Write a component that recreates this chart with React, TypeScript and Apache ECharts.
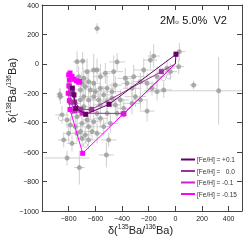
import React, { useEffect, useRef } from "react";
import * as echarts from "echarts";

// Grain data (δ135Ba/136Ba, δ138Ba/136Ba) with 2σ errors
const grainX = [-587, -737, -695, -867, -662, -612, -587, -562, -525, -462, -437, -450, -375, -362, -312, -262, -212, -162, -187, -175, -137, -212, -62, -37, 30, 25, 137, 325, -812, -720, -517, -500, -837, -800, -787, -850, -812, -750, -712, -675, -650, -625, -700, -662, -612, -562, -512, -587, -637, -687, -712, -687, -650, -612, -575, -537, -512, -475, -450, -412, -387, -437, -712, -675, -637, -600, -562, -700, -650, -725, -687, -612, -512, -475, -300, -262, -325, -737, -775, -700, -650, -737, -775, -587, -537, -487, -862, -137, -87, -237, -325, -750, -562];
const grainY = [241, 15, 19, -207, -53, -42, -42, -87, -64, -53, 13, -144, -98, -132, -87, -121, -132, 53, 26, -166, -87, -321, -30, -53, 83, -19, -144, -183, -640, -705, -619, -517, -517, -472, -415, -347, -381, -427, -460, -483, -427, -460, -404, -381, -393, -370, -336, -336, -313, -291, -245, -223, -245, -223, -245, -211, -257, -234, -279, -245, -302, -336, -177, -155, -177, -189, -166, -132, -121, -87, -98, -132, -166, -189, -223, -245, -268, -472, -540, -506, -517, -359, -325, -472, -427, -404, -223, -189, -177, -42, -166, -268, -279];
const grainXErr = [25, 30, 30, 25, 40, 35, 30, 60, 45, 70, 60, 50, 60, 45, 80, 50, 60, 45, 50, 40, 60, 55, 60, 50, 45, 40, 30, 560, 170, 40, 55, 60, 45, 40, 35, 50, 40, 45, 35, 40, 50, 45, 35, 40, 60, 55, 70, 45, 50, 40, 35, 40, 45, 50, 60, 55, 70, 60, 45, 65, 55, 60, 40, 45, 50, 55, 60, 40, 45, 35, 40, 50, 60, 70, 80, 60, 70, 35, 40, 45, 50, 35, 30, 50, 55, 60, 30, 70, 60, 80, 70, 40, 55];
const grainYErr = [35, 70, 60, 45, 90, 110, 80, 85, 70, 110, 60, 60, 70, 50, 80, 60, 70, 80, 60, 50, 70, 70, 60, 55, 60, 50, 30, 230, 50, 115, 85, 45, 50, 60, 55, 60, 55, 60, 50, 55, 70, 60, 55, 60, 70, 65, 70, 60, 70, 60, 55, 70, 60, 75, 70, 60, 75, 65, 60, 70, 65, 60, 65, 70, 60, 65, 70, 75, 80, 70, 65, 70, 80, 60, 70, 65, 75, 60, 55, 60, 65, 60, 55, 70, 60, 65, 50, 60, 55, 80, 60, 55, 60];
const openX = [-50, -675, -90, -860];
const openY = [-87, -552, -100, -370];

// AGB model predictions (2 Msun, 5.0% 13C pocket, V2)
const seriesNames = ["[Fe/H] = +0.1", "[Fe/H] =   0.0", "[Fe/H] = -0.1", "[Fe/H] = -0.15"];
const seriesColors = ["#660066", "#993399", "#cc22cc", "#ff00ff"];
const modelP01X = [0, 5, -497, -672, -747, -760, -772];
const modelP01Y = [0, 65, -275, -343, -302, -211, -165];
const model00X = [0, -105, -627, -710, -755, -770];
const model00Y = [0, -53, -309, -309, -260, -200];
const modelM01X = [0, -385, -700, -755, -785, -790, -795];
const modelM01Y = [0, -338, -335, -320, -260, -200, -150];
const modelM015X = [0, -392, -695, -790, -795, -803, -798, -795, -800, -790, -775, -760, -742, -725, -718];
const modelM015Y = [0, -341, -608, -310, -250, -200, -150, -110, -75, -62, -85, -105, -115, -125, -120];

const xTicks = [-800, -600, -400, -200, 0, 200, 400];
const yTicks = [400, 200, 0, -200, -400, -600, -800, -1000];

const FONT = "Liberation Sans, Arial, Helvetica, sans-serif";

export default function App() {
  const ref = useRef<HTMLDivElement>(null);
  useEffect(() => {
    if (!ref.current) return;
    const chart = echarts.init(ref.current, null, { renderer: "svg" });
    const pair = (xs: number[], ys: number[]) => xs.map((x, i) => [x, ys[i]]);
    const modelData = (xs: number[], ys: number[]) =>
      xs.map((x, i) => (i === 0 ? { value: [x, ys[i]], symbol: "none" } : [x, ys[i]]));
    const grains = grainX.map((x, i) => [x, grainY[i], grainXErr[i], grainYErr[i]]);
    const models = [
      modelData(modelP01X, modelP01Y),
      modelData(model00X, model00Y),
      modelData(modelM01X, modelM01Y),
      modelData(modelM015X, modelM015Y),
    ];
    const axisCommonX = {
      type: "value",
      min: -1000,
      max: 500,
      interval: 200,
      splitLine: { show: false },
      axisLine: { show: true, onZero: false, lineStyle: { color: "#444", width: 1 } },
      axisTick: { show: true, inside: true, length: 5, lineStyle: { color: "#444" } },
    };
    const axisCommonY = {
      type: "value",
      min: -1000,
      max: 400,
      interval: 200,
      splitLine: { show: false },
      axisLine: { show: true, onZero: false, lineStyle: { color: "#444", width: 1 } },
      axisTick: { show: true, inside: true, length: 5, lineStyle: { color: "#444" } },
    };
    const modelSeries = [3, 2, 1, 0].map((k) => ({
      type: "line",
      name: seriesNames[k],
      data: models[k],
      color: seriesColors[k],
      symbol: "rect",
      symbolSize: 5,
      lineStyle: { width: 1, color: seriesColors[k] },
      itemStyle: { color: seriesColors[k] },
      z: 10 + (3 - k),
    }));
    chart.setOption({
      animation: false,
      grid: { left: 42, right: 7, top: 5, bottom: 29 },
      xAxis: [
        {
          ...axisCommonX,
          position: "bottom",
          axisLabel: {
            fontSize: 7,
            color: "#222",
            fontFamily: FONT,
            margin: 4,
            formatter: (v: number) => (xTicks.includes(v) ? String(v).replace("-", "\u2212") : ""),
          },
        },
        { ...axisCommonX, position: "top", axisLabel: { show: false } },
      ],
      yAxis: [
        {
          ...axisCommonY,
          position: "left",
          axisLabel: {
            fontSize: 7,
            color: "#222",
            fontFamily: FONT,
            margin: 3,
            formatter: (v: number) => (yTicks.includes(v) ? String(v).replace("-", "\u2212") : ""),
          },
        },
        { ...axisCommonY, position: "right", axisLabel: { show: false } },
      ],
      legend: {
        data: seriesNames,
        orient: "vertical",
        left: 176,
        top: 151,
        itemWidth: 14,
        itemHeight: 2,
        itemGap: 4.5,
        icon: "rect",
        textStyle: { fontSize: 6.5, fontFamily: FONT, color: "#333", padding: [0, 0, 0, -3] },
      },
      series: [
        {
          type: "custom",
          name: "errors",
          clip: true,
          data: grains,
          renderItem: (params: any, api: any) => {
            const x = api.value(0), y = api.value(1), ex = api.value(2), ey = api.value(3);
            const a = api.coord([x - ex, y]);
            const b = api.coord([x + ex, y]);
            const c = api.coord([x, y - ey]);
            const d = api.coord([x, y + ey]);
            return {
              type: "group",
              children: [
                { type: "line", shape: { x1: a[0], y1: a[1], x2: b[0], y2: b[1] }, style: { stroke: "#cfcfcf", lineWidth: 1 } },
                { type: "line", shape: { x1: c[0], y1: c[1], x2: d[0], y2: d[1] }, style: { stroke: "#cfcfcf", lineWidth: 1 } },
              ],
            };
          },
          z: 1,
        },
        {
          type: "scatter",
          name: "grains",
          data: pair(grainX, grainY),
          symbol: "circle",
          symbolSize: 5,
          itemStyle: { color: "#9a9a9a" },
          z: 2,
        },
        {
          type: "scatter",
          name: "grainsOpen",
          data: pair(openX, openY),
          symbol: "circle",
          symbolSize: 4.5,
          itemStyle: { color: "#ffffff", borderColor: "#aaaaaa", borderWidth: 0.8 },
          z: 2,
        },
        ...modelSeries,
      ],
      graphic: [
        {
          type: "text",
          x: 160,
          y: 14,
          style: {
            text: "{a|2M}{b|\u2299}{a| 5.0%  V2}",
            rich: {
              a: { fontSize: 11, fontFamily: FONT, fill: "#111" },
              b: { fontSize: 5, fontFamily: FONT, fill: "#111", padding: [5, 0, 0, 0] },
            },
          },
          z: 50,
        },
        {
          type: "text",
          x: 108,
          y: 223,
          style: {
            text: "{a|\u03b4(}{s|135}{a|Ba/}{s|136}{a|Ba)}",
            rich: {
              a: { fontSize: 11, fontFamily: FONT, fill: "#222" },
              s: { fontSize: 6.5, fontFamily: FONT, fill: "#222", padding: [0, 0, 6, 0] },
            },
          },
        },
        {
          type: "text",
          x: 5,
          y: 123,
          rotation: Math.PI / 2,
          style: {
            text: "{a|\u03b4(}{s|138}{a|Ba/}{s|136}{a|Ba)}",
            rich: {
              a: { fontSize: 11, fontFamily: FONT, fill: "#222" },
              s: { fontSize: 6.5, fontFamily: FONT, fill: "#222", padding: [0, 0, 6, 0] },
            },
          },
        },
      ],
    });
    return () => chart.dispose();
  }, []);
  return <div ref={ref} style={{ position: "fixed", left: 0, top: 0, width: 249, height: 240 }} />;
}
